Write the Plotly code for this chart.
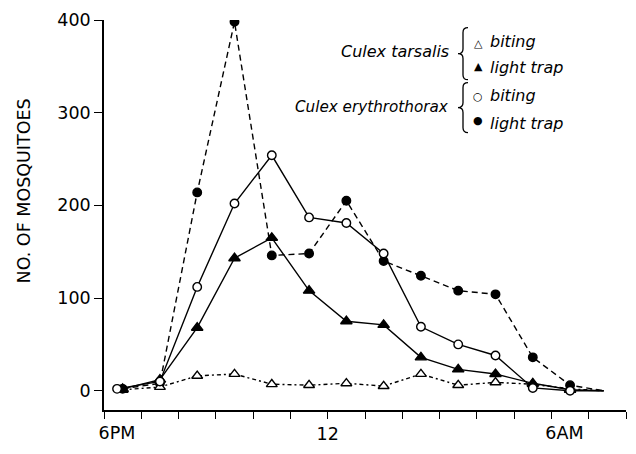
import plotly.graph_objects as go

# Collection times, hours after 6 PM (mid-point of each hourly catch)
hours = [0.5, 1.5, 2.5, 3.5, 4.5, 5.5, 6.5, 7.5, 8.5, 9.5, 10.5, 11.5, 12.5]
erythro_biting_hours = [0.35] + hours[1:]
end_hour = 13.4          # all curves run out to zero here
end_value = 0

# Numbers of mosquitoes per hour
tarsalis_biting = [1, 4, 16, 18, 7, 6, 8, 5, 18, 6, 9, 7, 2]
tarsalis_light = [2, 12, 68, 143, 165, 108, 75, 71, 36, 23, 18, 8, 1]
erythro_biting = [2, 10, 112, 202, 254, 187, 181, 148, 69, 50, 38, 3, 0]
erythro_light = [2, 8, 214, 398, 146, 148, 205, 140, 124, 108, 104, 36, 6]

# Axis ticks
hour_ticks = list(range(0, 15))
y_ticks = [0, 100, 200, 300, 400]
mid_label = {"val": 6, "text": "12"}
side_labels = {"vals": [0, 12], "text": ["6PM", "6AM"]}

FONT = "DejaVu Sans"
INK = "black"

# plot-area geometry in pixels
L, R, T, B = 104, 626, 20, 425
W, H = R - L, B - T


def fx(xp):
    return (xp - L) / W


def fy(yp):
    return (B - yp) / H


def series(x, y, symbol, size, filled, dash):
    xs = list(x) + [end_hour]
    ys = list(y) + [end_value]
    sizes = [size] * len(x) + [0]
    return go.Scatter(
        x=xs, y=ys, mode="lines+markers",
        line=dict(color=INK, width=1.4, dash=dash),
        marker=dict(symbol=symbol, size=sizes, opacity=1,
                    color=INK if filled else "white",
                    line=dict(color=INK, width=1.4)),
        showlegend=False, hoverinfo="x+y",
    )


fig = go.Figure()
fig.add_trace(series(hours, erythro_light, "circle", 8.5, True, "6px,4px"))
fig.add_trace(series(hours, tarsalis_biting, "triangle-up", 9.5, False, "4px,3px,2px,3px"))
fig.add_trace(series(hours, tarsalis_light, "triangle-up", 10, True, "solid"))
fig.add_trace(series(erythro_biting_hours, erythro_biting, "circle", 8.5, False, "solid"))

# second x axis only carries the "6PM" / "6AM" labels, nudged so the numeral sits on the tick
fig.add_trace(go.Scatter(x=[0, 14], y=[None, None], xaxis="x2", yaxis="y",
                         mode="markers", showlegend=False, hoverinfo="skip"))

tickfont = dict(family=FONT, size=17.5, color=INK)

fig.update_layout(
    width=636, height=454,
    margin=dict(l=L, r=636 - R, t=T, b=454 - B),
    paper_bgcolor="white", plot_bgcolor="white",
    xaxis=dict(range=[0, 14], tickmode="array", tickvals=hour_ticks,
               ticktext=[mid_label["text"] if v == mid_label["val"] else "" for v in hour_ticks],
               ticks="outside", ticklen=7, tickwidth=1.4, tickcolor=INK,
               showline=True, linecolor=INK, linewidth=1.5,
               showgrid=False, zeroline=False, tickfont=tickfont),
    xaxis2=dict(range=[0, 14], overlaying="x", anchor="y", side="bottom",
                tickmode="array", tickvals=side_labels["vals"], ticktext=side_labels["text"],
                ticks="outside", ticklen=7, tickcolor="rgba(0,0,0,0)",
                ticklabelshift=13, showline=False, showgrid=False, zeroline=False,
                tickfont=tickfont),
    yaxis=dict(range=[-20.8, 400], tickmode="array", tickvals=y_ticks,
               ticks="outside", ticklen=8, tickwidth=1.4, tickcolor=INK,
               showline=True, linecolor=INK, linewidth=1.5,
               showgrid=False, zeroline=False, tickfont=tickfont),
)

ann = []
ann.append(dict(text="NO. OF MOSQUITOES", textangle=-90, x=fx(24), y=fy(198),
                xanchor="center", yanchor="middle",
                xref="paper", yref="paper", showarrow=False,
                font=dict(family=FONT, size=17.5, color=INK)))

ital = dict(family=FONT, size=16, color=INK, style="italic")
ann.append(dict(text="Culex tarsalis", x=fx(451), y=fy(53),
                xanchor="right", yanchor="middle",
                xref="paper", yref="paper", showarrow=False, font=ital))
ann.append(dict(text="Culex erythrothorax", x=fx(451), y=fy(110),
                xanchor="right", yanchor="middle",
                xref="paper", yref="paper", showarrow=False,
                font=dict(family=FONT, size=15.2, color=INK, style="italic")))

key_rows = [("\u25b3", "biting", 44, 42), ("\u25b2", "light trap", 68, 69),
            ("\u25cb", "biting", 99, 98), ("\u25cf", "light trap", 124, 127)]
for glyph, label, gy, ty in key_rows:
    ann.append(dict(text=glyph, x=fx(478), y=fy(gy),
                    xanchor="center", yanchor="middle",
                    xref="paper", yref="paper", showarrow=False,
                    font=dict(family=FONT, size=11, color=INK)))
    ann.append(dict(text=label, x=fx(488), y=fy(ty),
                    xanchor="left", yanchor="middle",
                    xref="paper", yref="paper", showarrow=False, font=ital))
fig.update_layout(annotations=ann)


def brace(top, bot, spine=463, tip=458, end=468):
    mid = (top + bot) / 2
    pts = [
        ("M", [(end, top)]),
        ("Q", [(spine, top), (spine, top + 5)]),
        ("L", [(spine, mid - 5)]),
        ("Q", [(spine, mid), (tip, mid)]),
        ("Q", [(spine, mid), (spine, mid + 5)]),
        ("L", [(spine, bot - 5)]),
        ("Q", [(spine, bot), (end, bot)]),
    ]
    out = []
    for cmd, coords in pts:
        out.append(cmd + " ".join(f"{fx(a):.5f},{fy(b):.5f}" for a, b in coords))
    return " ".join(out)


for top, bot in [(28, 82), (85, 137)]:
    fig.add_shape(type="path", path=brace(top, bot), xref="paper", yref="paper",
                  line=dict(color=INK, width=1.3))

fig.write_html("out.html")
